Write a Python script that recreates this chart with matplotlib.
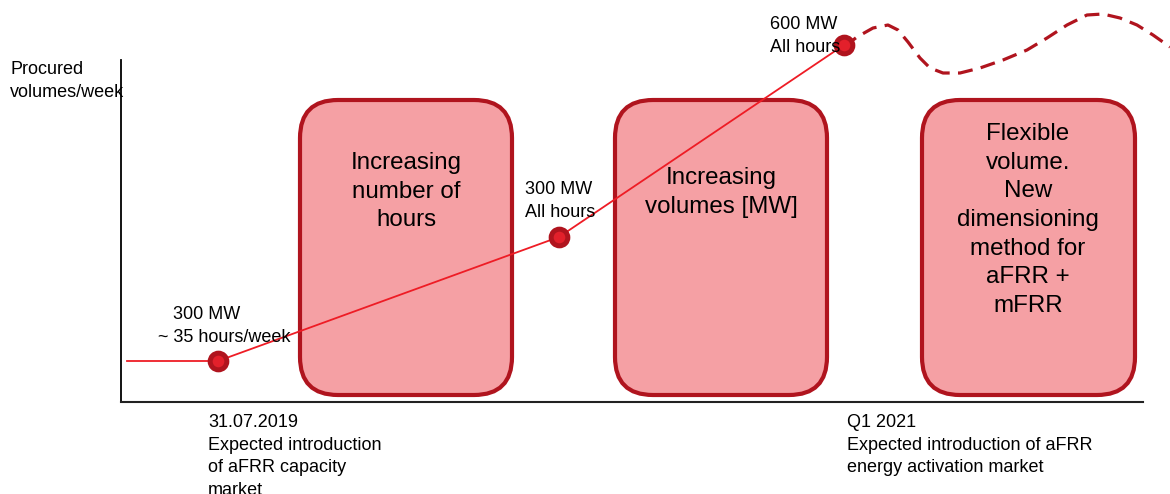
import matplotlib.pyplot as plt
from matplotlib.patches import FancyBboxPatch

plt.rcParams['font.family'] = ['Liberation Sans', 'DejaVu Sans']

# timeline units (x) and relative procured volume (y)
start_x = [6, 97]
start_y = [41, 41]
milestone_x = [97, 438, 723]
milestone_y = [41, 165, 357]
milestone_labels = ["   300 MW\n~ 35 hours/week", "300 MW\nAll hours", "600 MW\nAll hours"]

# future (uncertain) flexible volume
future_x = [723, 736, 752, 767, 777, 787, 799, 809, 822, 839, 859, 882, 906, 926, 946,
            966, 982, 999, 1016, 1032, 1049]
future_y = [355, 365, 374, 377, 372, 360, 344, 334, 329, 329, 334, 342, 352, 364, 377,
            387, 388, 384, 377, 367, 355]

phase_texts = ["Increasing\nnumber of\nhours", "Increasing\nvolumes [MW]",
               "Flexible\nvolume.\nNew\ndimensioning\nmethod for\naFRR +\nmFRR"]
phase_left = [179, 494, 801]
phase_right = [391, 706, 1014]

dark_red = '#B0141E'
line_red = '#EE1C25'
box_fill = '#F5A0A4'

W, H = 1170, 494


def fx(px):
    return px / W


def fy(py):
    return 1 - py / H


fig = plt.figure(figsize=(11.7, 4.94), dpi=100)
ax = fig.add_axes([121 / W, 92 / H, 1022 / W, 342 / H])
ax.set_xlim(0, 1022)
ax.set_ylim(0, 342)
ax.set_xticks([])
ax.set_yticks([])
ax.spines['top'].set_visible(False)
ax.spines['right'].set_visible(False)
ax.spines['left'].set_linewidth(1.3)
ax.spines['bottom'].set_linewidth(1.5)
ax.spines['bottom'].set_color('#222222')

# phase boxes
for l, r in zip(phase_left, phase_right):
    box = FancyBboxPatch((l + 38, 7 + 38), r - l - 76, 302 - 7 - 76,
                         boxstyle="round,pad=38", facecolor=box_fill,
                         edgecolor=dark_red, linewidth=3, zorder=2)
    ax.add_patch(box)

big = dict(ha='center', va='top', fontsize=17.4, linespacing=1.39, zorder=5)
fig.text(fx(406), fy(152), phase_texts[0], **big)
fig.text(fx(721), fy(167), phase_texts[1], **big)
fig.text(fx(1028), fy(123), phase_texts[2], **big)

# procured volume line
ax.plot(start_x, start_y, color=line_red, lw=1.3, zorder=3)
ax.plot(milestone_x, milestone_y, color=line_red, lw=1.3, zorder=3, clip_on=False)
ax.plot(future_x, future_y, color=dark_red, lw=2.3, ls=(0, (4.7, 2.6)), zorder=3,
        clip_on=False)
ax.plot(milestone_x, milestone_y, 'o', ms=12, markerfacecolor='#E3202B',
        markeredgecolor=dark_red, markeredgewidth=3.6, zorder=4, clip_on=False)

small = dict(va='top', fontsize=13, linespacing=1.43, zorder=5)
fig.text(fx(158), fy(306), milestone_labels[0], ha='left', **small)
fig.text(fx(525), fy(181), milestone_labels[1], ha='left', **small)
fig.text(fx(770), fy(16), milestone_labels[2], ha='left', **small)

fig.text(fx(10), fy(61), "Procured\nvolumes/week", ha='left', **small)
fig.text(fx(208), fy(414),
         "31.07.2019\nExpected introduction\nof aFRR capacity\nmarket",
         ha='left', **small)
fig.text(fx(847), fy(414),
         "Q1 2021\nExpected introduction of aFRR\nenergy activation market",
         ha='left', **small)

fig.savefig('out.png', dpi=100)
